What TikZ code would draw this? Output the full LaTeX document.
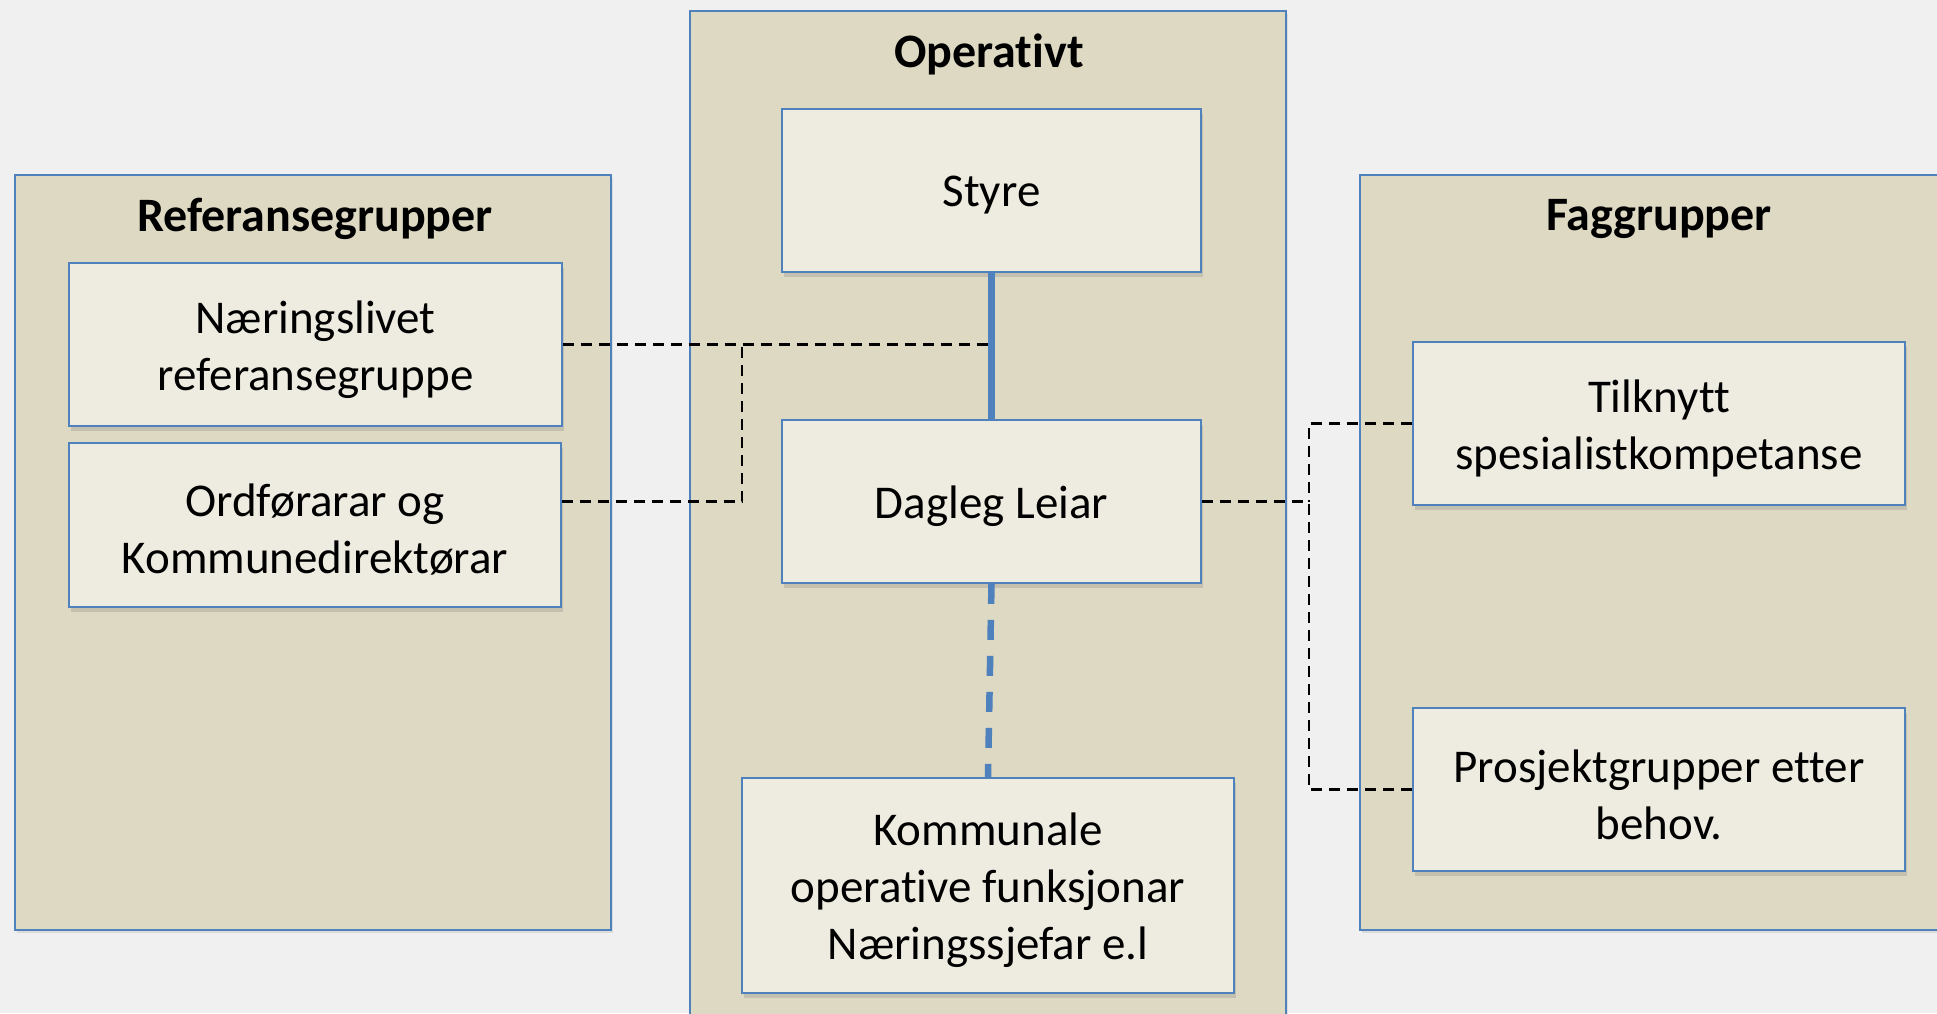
\documentclass[tikz,border=0pt]{standalone}
\usepackage{fontspec}
\setmainfont{Carlito}[Ligatures=NoCommon]
\usetikzlibrary{shadows}
\definecolor{bg}{HTML}{F0F0F0}
\definecolor{outerfill}{HTML}{DDD9C3}
\definecolor{innerfill}{HTML}{EEECE1}
\definecolor{edge}{HTML}{4F81BD}
\tikzset{
  outerbox/.style={draw=edge, line width=1.6pt, fill=outerfill, inner sep=0pt,
    drop shadow={shadow xshift=1.5pt, shadow yshift=-2.5pt, opacity=0.18}},
  innerbox/.style={draw=edge, line width=1.8pt, fill=innerfill, inner sep=0pt,
    drop shadow={shadow xshift=2pt, shadow yshift=-5pt, opacity=0.28}},
  boxtext/.style={align=center, inner sep=0pt, font=\fontsize{47}{57}\selectfont},
  grouptitle/.style={font=\fontsize{48}{58}\selectfont\bfseries, inner sep=0pt},
  dl/.style={draw=black, line width=2.2pt, dash pattern=on 11pt off 7pt},
  bl/.style={draw=edge, line width=6.5pt},
  bdl/.style={bl, dash pattern=on 20pt off 16pt}
}
\begin{document}
\begin{tikzpicture}[x=1pt,y=-1pt]
\fill[bg] (0,0) rectangle (1937,1013);
\useasboundingbox (0,0) rectangle (1937,1013);

% group boxes
\node[outerbox, minimum width=596pt, minimum height=755pt] (refg) at (313,552.5) {};
\node[outerbox, minimum width=596pt, minimum height=1029pt] (oper) at (988,525.5) {};
\node[outerbox, minimum width=600pt, minimum height=755pt] (fagg) at (1660,552.5) {};

% titles
\node[grouptitle] (t1) at (315,219) {Referansegrupper};
\node[grouptitle] (t2) at (989,54) {Operativt};
\node[grouptitle] (t3) at (1659,219) {Faggrupper};

% inner boxes
\node[innerbox, minimum width=493pt, minimum height=163pt] (naer) at (315.5,344.5) {};
\node[innerbox, minimum width=492pt, minimum height=164pt] (ordf) at (315,525) {};
\node[innerbox, minimum width=419pt, minimum height=163pt] (styre) at (991.5,190.5) {};
\node[innerbox, minimum width=419pt, minimum height=163pt] (dagleg) at (991.5,501.5) {};
\node[innerbox, minimum width=492pt, minimum height=215pt] (komm) at (988,885.5) {};
\node[innerbox, minimum width=492pt, minimum height=163pt] (tilk) at (1659,423.5) {};
\node[innerbox, minimum width=492pt, minimum height=163pt] (prosj) at (1659,789.5) {};

% box texts
\node[boxtext] (naer-t) at ([yshift=-5pt]naer.center) {Næringslivet\\referansegruppe};
\node[boxtext] (ordf-t) at ([yshift=-5pt]ordf.center) {Ordførarar og\\Kommunedirektørar};
\node[boxtext] (styre-t) at ([yshift=-5pt]styre.center) {Styre};
\node[boxtext] (dagleg-t) at ([yshift=-5pt]dagleg.center) {Dagleg Leiar};
\node[boxtext] (komm-t) at ([yshift=-5pt]komm.center) {Kommunale\\operative funksjonar\\Næringssjefar e.l};
\node[boxtext] (tilk-t) at ([yshift=-5pt]tilk.center) {Tilknytt\\spesialistkompetanse};
\node[boxtext] (prosj-t) at ([yshift=-5pt]prosj.center) {Prosjektgrupper etter\\behov.};

% junction points
\coordinate (jl) at (742,344.5);
\coordinate (jr) at (1309,501.5);

% dashed black connectors
\draw[dl] (naer.east) -- (naer.east -| styre.south);
\draw[dl] (ordf.east |- dagleg.west) -| (jl);
\draw[dl] (dagleg.east) -- (jr);
\draw[dl] (tilk.west) -| (jr);
\draw[dl] (prosj.west) -| (jr);

% blue connectors
\draw[bl] (styre.south) -- (dagleg.north);
\draw[bdl] (dagleg.south) -- (komm.north);
\end{tikzpicture}
\end{document}
